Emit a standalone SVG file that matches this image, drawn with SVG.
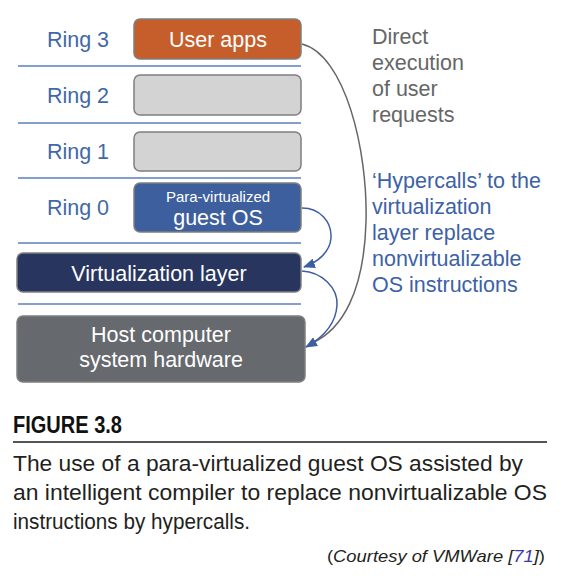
<svg xmlns="http://www.w3.org/2000/svg" width="571" height="587" viewBox="0 0 571 587">
<defs>
<style>
.ring{font-family:"Liberation Sans",Arial,sans-serif;font-size:21.5px;fill:#4169a8;text-anchor:middle}
.sep{stroke:#5a7fbd;stroke-width:1.5}
.box{stroke:#7f7f7f;stroke-width:1.5}
.wt{font-family:"Liberation Sans",Arial,sans-serif;font-size:21.5px;fill:#ffffff;text-anchor:middle}
.note{font-family:"Liberation Sans",Arial,sans-serif;font-size:21.5px}
.cap{font-family:"Liberation Sans",Arial,sans-serif;font-size:22px;fill:#231f20}
.conn{fill:none;stroke-width:1.5}
</style>
<marker id="ah" viewBox="0 0 12 10" refX="11" refY="5" markerWidth="12" markerHeight="10" markerUnits="userSpaceOnUse" orient="auto">
<path d="M0,0 L12,5 L0,10 Z" fill="#3d5fa0"/>
</marker>
</defs>
<rect width="571" height="587" fill="#ffffff"/>

<g id="separators">
<line class="sep" x1="18" y1="66" x2="301" y2="66"/>
<line class="sep" x1="18" y1="123" x2="301" y2="123"/>
<line class="sep" x1="18" y1="178" x2="301" y2="178"/>
<line class="sep" x1="18" y1="243" x2="301" y2="243"/>
<line class="sep" x1="18" y1="304" x2="301" y2="304"/>
</g>

<g id="ring-labels">
<text class="ring" x="78" y="47">Ring 3</text>
<text class="ring" x="78" y="103">Ring 2</text>
<text class="ring" x="78" y="159">Ring 1</text>
<text class="ring" x="78" y="215">Ring 0</text>
</g>

<g id="user-apps">
<rect class="box" x="134" y="19" width="167" height="40" rx="6" fill="#c55e2a"/>
<text class="wt" x="218" y="47">User apps</text>
</g>
<g id="ring2-box">
<rect class="box" x="134" y="75" width="167" height="40" rx="6" fill="#d3d3d3"/>
</g>
<g id="ring1-box">
<rect class="box" x="134" y="132" width="167" height="39" rx="6" fill="#d3d3d3"/>
</g>
<g id="guest-os">
<rect class="box" x="134" y="183" width="167" height="49" rx="6" fill="#3d5f9e"/>
<text class="wt" x="218" y="202" style="font-size:15px">Para-virtualized</text>
<text class="wt" x="218" y="225">guest OS</text>
</g>
<g id="virtualization-layer">
<rect class="box" x="17" y="253" width="284" height="39" rx="6" fill="#28355f"/>
<text class="wt" x="159" y="281">Virtualization layer</text>
</g>
<g id="host-hardware">
<rect class="box" x="17" y="316" width="288" height="66" rx="6" fill="#66696d"/>
<text class="wt" x="161" y="342">Host computer</text>
<text class="wt" x="161" y="367">system hardware</text>
</g>

<g id="connectors">
<path class="conn" stroke="#666666" d="M302,44 C345,55 368,150 366,222 C364,292 342,330 312,343"/>
<path class="conn" stroke="#3d5fa0" d="M302,208 C320,208 332,222 331,238 C330,252 318,262 304,267" marker-end="url(#ah)"/>
<path class="conn" stroke="#3d5fa0" d="M302,271 C322,272 338,288 337,305 C336,325 322,338 306,347" marker-end="url(#ah)"/>
</g>

<g id="note-direct" class="note" fill="#666666">
<text x="372" y="44">Direct</text>
<text x="372" y="70">execution</text>
<text x="372" y="96">of user</text>
<text x="372" y="122">requests</text>
</g>
<g id="note-hypercalls" class="note" fill="#3d62a5">
<text x="372" y="188">‘Hypercalls’ to the</text>
<text x="372" y="214">virtualization</text>
<text x="372" y="240">layer replace</text>
<text x="372" y="266">nonvirtualizable</text>
<text x="372" y="292">OS instructions</text>
</g>

<g id="caption">
<text x="13" y="433" style="font-family:'Liberation Sans',Arial,sans-serif;font-weight:bold;font-size:24px;fill:#111111" textLength="109" lengthAdjust="spacingAndGlyphs">FIGURE 3.8</text>
<line x1="13" y1="442" x2="547" y2="442" stroke="#555555" stroke-width="2"/>
<text class="cap" x="13" y="471" textLength="510" lengthAdjust="spacingAndGlyphs">The use of a para-virtualized guest OS assisted by</text>
<text class="cap" x="13" y="500" textLength="534" lengthAdjust="spacingAndGlyphs">an intelligent compiler to replace nonvirtualizable OS</text>
<text class="cap" x="13" y="529" textLength="237" lengthAdjust="spacingAndGlyphs">instructions by hypercalls.</text>
<text x="327" y="562" style="font-family:'Liberation Sans',Arial,sans-serif;font-size:17px;fill:#231f20" textLength="218" lengthAdjust="spacingAndGlyphs">(<tspan font-style="italic">Courtesy of VMWare [<tspan fill="#3a3aa8">71</tspan>]</tspan>)</text>
</g>
</svg>
